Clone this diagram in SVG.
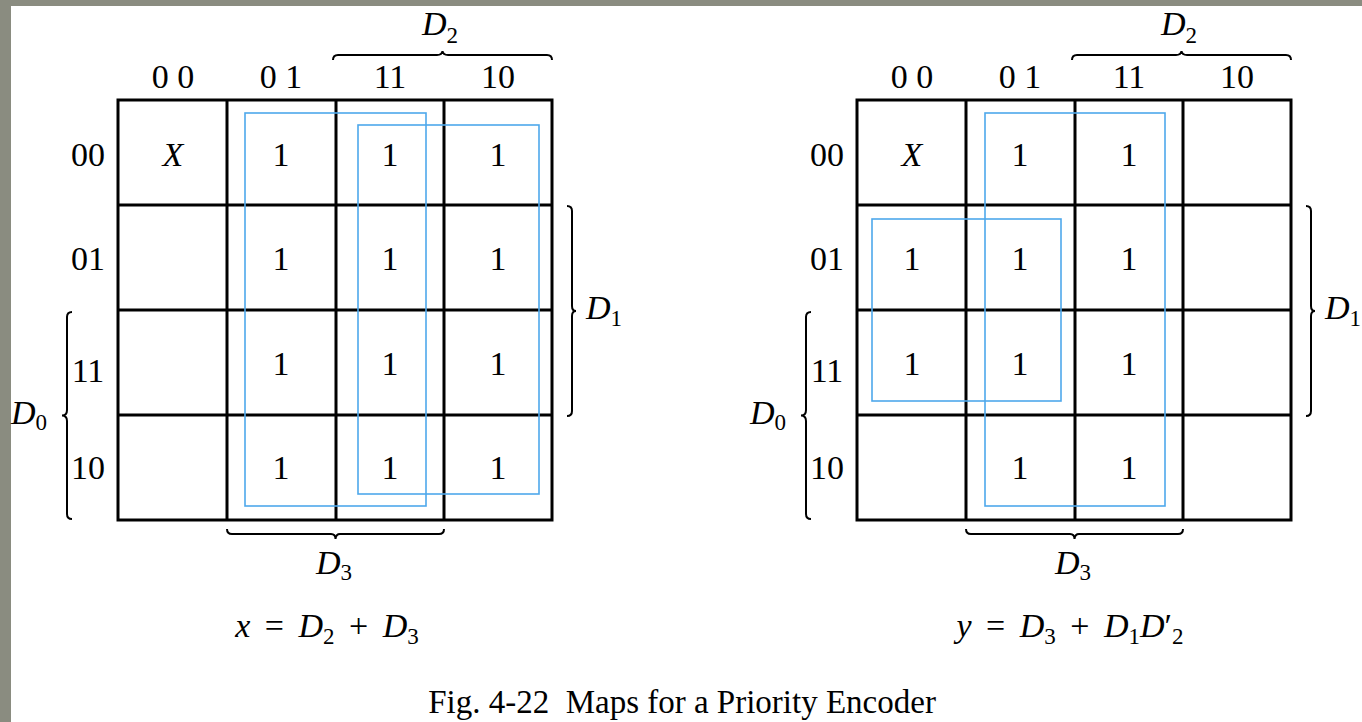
<svg xmlns="http://www.w3.org/2000/svg" width="1362" height="722" viewBox="0 0 1362 722">
<style>
text{font-family:"Liberation Serif","Times New Roman",serif;font-size:34px;fill:#000}
.c{text-anchor:middle}
.i{font-style:italic}
.sub{font-size:23px;font-style:normal}
.eq{word-spacing:6px}
.grid{stroke:#000;stroke-width:3;fill:none}
.brace{stroke:#000;stroke-width:2;fill:none}
.loop{stroke:#4ea8ec;stroke-width:1.6;fill:none}
.cap{font-size:33px;white-space:pre}
</style>
<rect x="0" y="0" width="1362" height="722" fill="#8a8c80"/>
<rect x="11" y="6" width="1351" height="716" fill="#fff"/>

<g id="mapX">
  <g id="mapX-grid">
    <rect class="grid" x="118" y="100" width="434" height="420"/>
    <path class="grid" d="M227,100V520M336,100V520M444,100V520M118,205H552M118,310H552M118,415H552"/>
  </g>
  <g id="mapX-colhdr">
    <text class="c" x="173" y="88">0 0</text>
    <text class="c" x="281" y="88">0 1</text>
    <text class="c" x="390" y="88">11</text>
    <text class="c" x="498" y="88">10</text>
  </g>
  <g id="mapX-rowhdr">
    <text class="c" x="88" y="166">00</text>
    <text class="c" x="88" y="270">01</text>
    <text class="c" x="88" y="382">11</text>
    <text class="c" x="88" y="479">10</text>
  </g>
  <g id="mapX-cells">
    <text class="c i" x="173" y="166">X</text>
    <text class="c" x="281" y="166">1</text><text class="c" x="390" y="166">1</text><text class="c" x="498" y="166">1</text>
    <text class="c" x="281" y="270">1</text><text class="c" x="390" y="270">1</text><text class="c" x="498" y="270">1</text>
    <text class="c" x="281" y="375">1</text><text class="c" x="390" y="375">1</text><text class="c" x="498" y="375">1</text>
    <text class="c" x="281" y="479">1</text><text class="c" x="390" y="479">1</text><text class="c" x="498" y="479">1</text>
  </g>
  <g id="mapX-loops">
    <rect class="loop" x="245" y="113" width="181" height="393"/>
    <rect class="loop" x="358" y="125" width="181" height="369"/>
  </g>
  <g id="mapX-labels">
    <path class="brace" d="M333,60Q333,55 338,55L437,55Q442,55 442.5,51Q443,55 448,55L547,55Q552,55 552,60"/>
    <text x="422" y="35" class="i">D<tspan class="sub i" dy="8">2</tspan></text>
    <path class="brace" d="M567,206Q572,206 572,211L572,306Q572,311 576,311Q572,311 572,316L572,411Q572,416 567,416"/>
    <text x="586" y="319" class="i">D<tspan class="sub i" dy="7">1</tspan></text>
    <path class="brace" d="M72,312Q67,312 67,317L67,410Q67,415.5 62,415.5Q67,415.5 67,421L67,514Q67,519 72,519"/>
    <text x="11" y="424" class="i">D<tspan class="sub" dy="6">0</tspan></text>
    <path class="brace" d="M227,529Q227,534 232,534L331,534Q335.5,534 335.5,539Q336,534 340,534L439,534Q444,534 444,529"/>
    <text x="316" y="574" class="i">D<tspan class="sub" dy="6">3</tspan></text>
  </g>
  <text id="eqX" class="c eq" x="327" y="637"><tspan class="i">x</tspan> = <tspan class="i">D</tspan><tspan class="sub" dy="7">2</tspan><tspan dy="-7"> + </tspan><tspan class="i">D</tspan><tspan class="sub" dy="7">3</tspan></text>
</g>

<g id="mapY">
  <g id="mapY-grid">
    <rect class="grid" x="857" y="100" width="434" height="420"/>
    <path class="grid" d="M966,100V520M1075,100V520M1183,100V520M857,205H1291M857,310H1291M857,415H1291"/>
  </g>
  <g id="mapY-colhdr">
    <text class="c" x="912" y="88">0 0</text>
    <text class="c" x="1020" y="88">0 1</text>
    <text class="c" x="1129" y="88">11</text>
    <text class="c" x="1237" y="88">10</text>
  </g>
  <g id="mapY-rowhdr">
    <text class="c" x="827" y="166">00</text>
    <text class="c" x="827" y="270">01</text>
    <text class="c" x="827" y="382">11</text>
    <text class="c" x="827" y="479">10</text>
  </g>
  <g id="mapY-cells">
    <text class="c i" x="912" y="166">X</text>
    <text class="c" x="1020" y="166">1</text><text class="c" x="1129" y="166">1</text>
    <text class="c" x="912" y="270">1</text><text class="c" x="1020" y="270">1</text><text class="c" x="1129" y="270">1</text>
    <text class="c" x="912" y="375">1</text><text class="c" x="1020" y="375">1</text><text class="c" x="1129" y="375">1</text>
    <text class="c" x="1020" y="479">1</text><text class="c" x="1129" y="479">1</text>
  </g>
  <g id="mapY-loops">
    <rect class="loop" x="985" y="113" width="180" height="393"/>
    <rect class="loop" x="872" y="219" width="189" height="182"/>
  </g>
  <g id="mapY-labels">
    <path class="brace" d="M1072,60Q1072,55 1077,55L1176,55Q1181,55 1181.5,51Q1182,55 1187,55L1286,55Q1291,55 1291,60"/>
    <text x="1161" y="35" class="i">D<tspan class="sub i" dy="8">2</tspan></text>
    <path class="brace" d="M1306,206Q1311,206 1311,211L1311,306Q1311,311 1315,311Q1311,311 1311,316L1311,411Q1311,416 1306,416"/>
    <text x="1325" y="319" class="i">D<tspan class="sub i" dy="7">1</tspan></text>
    <path class="brace" d="M811,312Q806,312 806,317L806,410Q806,415.5 801,415.5Q806,415.5 806,421L806,514Q806,519 811,519"/>
    <text x="750" y="424" class="i">D<tspan class="sub" dy="6">0</tspan></text>
    <path class="brace" d="M966,529Q966,534 971,534L1070,534Q1074.5,534 1074.5,539Q1075,534 1079,534L1178,534Q1183,534 1183,529"/>
    <text x="1055" y="574" class="i">D<tspan class="sub" dy="6">3</tspan></text>
  </g>
  <text id="eqY" class="c eq" x="1070" y="637"><tspan class="i">y</tspan> = <tspan class="i">D</tspan><tspan class="sub" dy="7">3</tspan><tspan dy="-7"> + </tspan><tspan class="i">D</tspan><tspan class="sub" dy="7">1</tspan><tspan class="i" dy="-7">D</tspan><tspan>′</tspan><tspan class="sub" dy="7">2</tspan></text>
</g>

<text id="caption" class="c cap" x="682" y="713">Fig. 4-22  Maps for a Priority Encoder</text>
</svg>
